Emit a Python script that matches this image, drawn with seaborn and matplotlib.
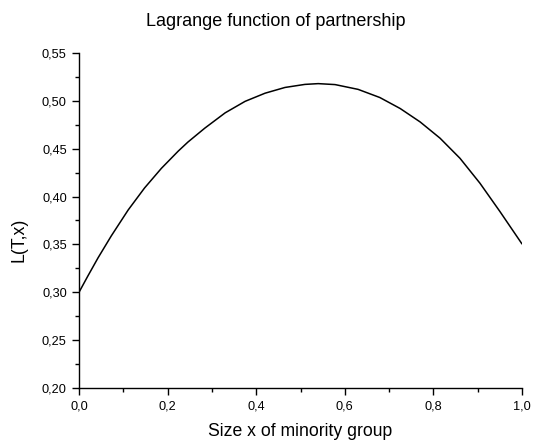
import matplotlib
matplotlib.use("Agg")
import matplotlib.pyplot as plt
import seaborn as sns
import pandas as pd
from matplotlib.ticker import MultipleLocator

# Data
x_values = [0.000, 0.020, 0.043, 0.073, 0.111, 0.148, 0.186, 0.224, 0.246, 0.284,
            0.330, 0.375, 0.420, 0.465, 0.510, 0.540, 0.578, 0.630, 0.679, 0.725,
            0.770, 0.815, 0.860, 0.905, 0.950, 1.000]
l_values = [0.3000, 0.3170, 0.3360, 0.3590, 0.3860, 0.4090, 0.4295, 0.4475, 0.4570, 0.4715,
            0.4875, 0.4995, 0.5080, 0.5140, 0.5172, 0.5180, 0.5170, 0.5120, 0.5035, 0.4920,
            0.4780, 0.4610, 0.4400, 0.4140, 0.3845, 0.3505]

x_ticks = [0.0, 0.2, 0.4, 0.6, 0.8, 1.0]
x_tick_labels = ["0,0", "0,2", "0,4", "0,6", "0,8", "1,0"]
y_ticks = [0.20, 0.25, 0.30, 0.35, 0.40, 0.45, 0.50, 0.55]
y_tick_labels = ["0,20", "0,25", "0,30", "0,35", "0,40", "0,45", "0,50", "0,55"]

title = "Lagrange function of partnership"
x_label = "Size x of minority group"
y_label = "L(T,x)"

sns.set_theme(style="ticks")
plt.rcParams["font.family"] = ["Liberation Sans", "DejaVu Sans"]

df = pd.DataFrame({"x": x_values, "L": l_values})

fig = plt.figure(figsize=(5.33, 4.43), dpi=100)
ax = fig.add_axes([79 / 533, 1 - 388 / 443, (522 - 79) / 533, (388 - 53) / 443])

sns.lineplot(data=df, x="x", y="L", ax=ax, color="black", linewidth=1.1)

ax.set_xlim(0, 1)
ax.set_ylim(0.2, 0.55)
ax.set_xticks(x_ticks)
ax.set_xticklabels(x_tick_labels)
ax.set_yticks(y_ticks)
ax.set_yticklabels(y_tick_labels)
ax.xaxis.set_minor_locator(MultipleLocator(0.1))
ax.yaxis.set_minor_locator(MultipleLocator(0.025))

for side in ["top", "right"]:
    ax.spines[side].set_visible(False)
for side in ["left", "bottom"]:
    ax.spines[side].set_linewidth(1.0)
    ax.spines[side].set_color("black")

ax.tick_params(which="major", direction="out", length=5.3, width=1.0, color="black",
               labelsize=9.2, labelcolor="black", pad=3.5)
ax.tick_params(which="minor", direction="out", length=3, width=1.0, color="black")

ax.set_xlabel(x_label, fontsize=12.7, color="black")
ax.set_ylabel(y_label, fontsize=12.7, color="black")
ax.xaxis.set_label_coords(0.5, -0.1045)
ax.yaxis.set_label_coords(-0.117, 0.442)

fig.text(276 / 533, 1 - 26 / 443, title, ha="center", va="baseline", fontsize=13.0, color="black")

fig.savefig("out.png", dpi=100)
